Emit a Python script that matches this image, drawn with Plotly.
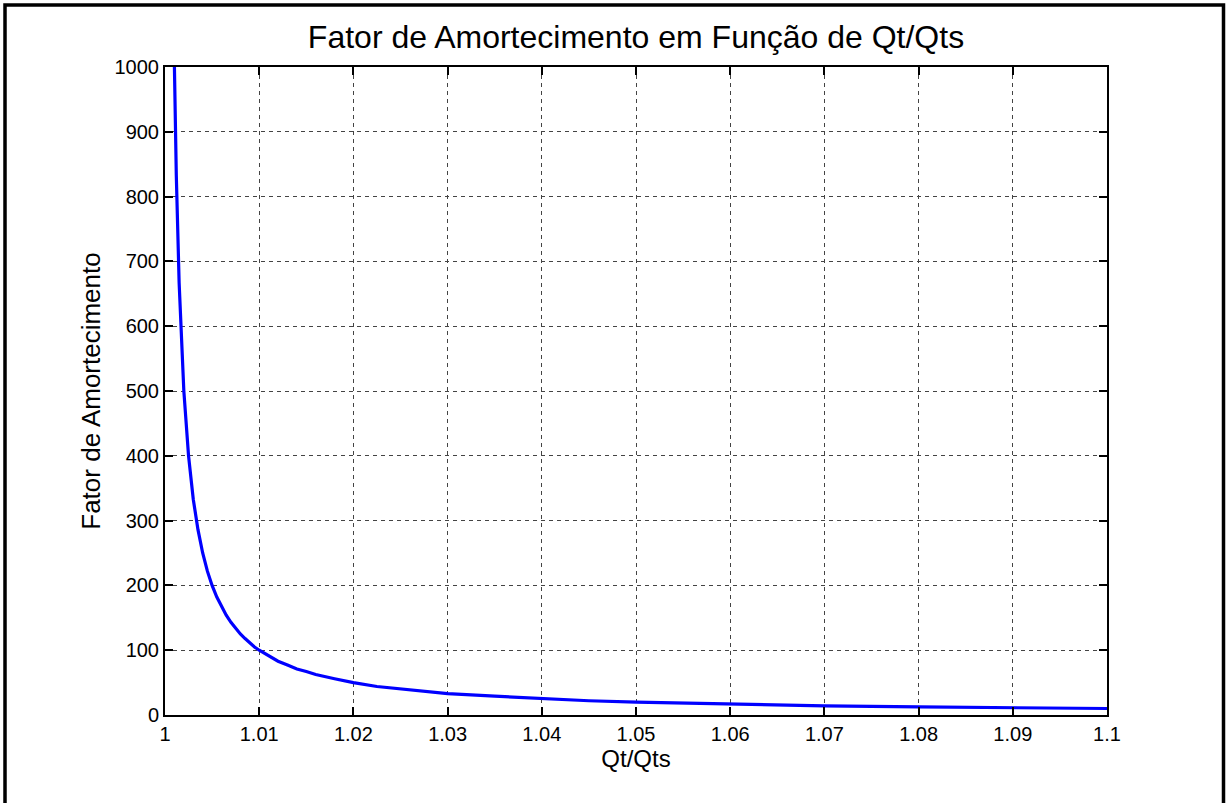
import plotly.graph_objects as go

# Qt/Qts ratio and the resulting damping factor
qt_ratio = [1.001, 1.0012, 1.0015, 1.0017, 1.002, 1.0025, 1.003, 1.0035, 1.004,
            1.0045, 1.005, 1.0055, 1.006, 1.0065, 1.007, 1.0075, 1.008, 1.0085,
            1.009, 1.0095, 1.010, 1.011, 1.012, 1.013, 1.014, 1.015, 1.016,
            1.018, 1.02, 1.0225, 1.025, 1.0275, 1.03, 1.035, 1.04, 1.045,
            1.05, 1.06, 1.07, 1.08, 1.09, 1.1]
damping = [1000, 833, 667, 588, 500, 400, 333, 286, 250,
           222, 200, 182, 167, 154, 143, 133, 125, 118,
           111, 105, 100, 91, 83, 77, 71, 67, 62.5,
           56, 50, 44, 40, 36, 33, 29, 25, 22,
           20, 17, 14, 12.5, 11, 10]

x_ticks = [1, 1.01, 1.02, 1.03, 1.04, 1.05, 1.06, 1.07, 1.08, 1.09, 1.1]
x_tick_text = ["1", "1.01", "1.02", "1.03", "1.04", "1.05", "1.06", "1.07", "1.08", "1.09", "1.1"]
y_ticks = [0, 100, 200, 300, 400, 500, 600, 700, 800, 900, 1000]

W, H = 1227, 803
ML, MR, MT, MB = 165, 120, 67, 88
pw, ph = W - ML - MR, H - MT - MB

FONT = "Liberation Sans, Arial, sans-serif"

fig = go.Figure()
fig.add_trace(go.Scatter(
    x=qt_ratio, y=damping, mode="lines",
    line=dict(color="#0000ff", width=3.2),
    showlegend=False,
))

axis_common = dict(
    showline=True, linecolor="black", linewidth=2, mirror="ticks",
    ticks="inside", ticklen=8, tickwidth=2, tickcolor="black",
    showgrid=True, gridcolor="#444444", gridwidth=1, griddash="4px,4px",
    zeroline=False,
    tickfont=dict(family=FONT, size=20, color="black"),
)

fig.update_layout(
    width=W, height=H,
    margin=dict(l=ML, r=MR, t=MT, b=MB),
    paper_bgcolor="white", plot_bgcolor="white",
    title=dict(text="Fator de Amortecimento em Função de Qt/Qts",
               x=(ML + pw / 2) / W, xanchor="center",
               y=1 - 37 / H, yanchor="middle", yref="container",
               font=dict(family=FONT, size=32, color="black")),
    xaxis=dict(range=[1, 1.1], tickvals=x_ticks, ticktext=x_tick_text,
               title=dict(text="Qt/Qts", font=dict(family=FONT, size=24, color="black"),
                          standoff=2),
               **axis_common),
    yaxis=dict(range=[0, 1000], tickvals=y_ticks,
               title=dict(text="Fator de Amortecimento",
                          font=dict(family=FONT, size=26, color="black"), standoff=6),
               **axis_common),
)

# Outer frame around the figure
fig.add_shape(type="rect", xref="paper", yref="paper",
              x0=(5 - ML) / pw, x1=(1223.5 - ML) / pw,
              y0=-(H - MT - ph + 20) / ph, y1=1 + (MT - 5) / ph,
              line=dict(color="black", width=3.5), layer="below")

fig.write_html("out.html")
